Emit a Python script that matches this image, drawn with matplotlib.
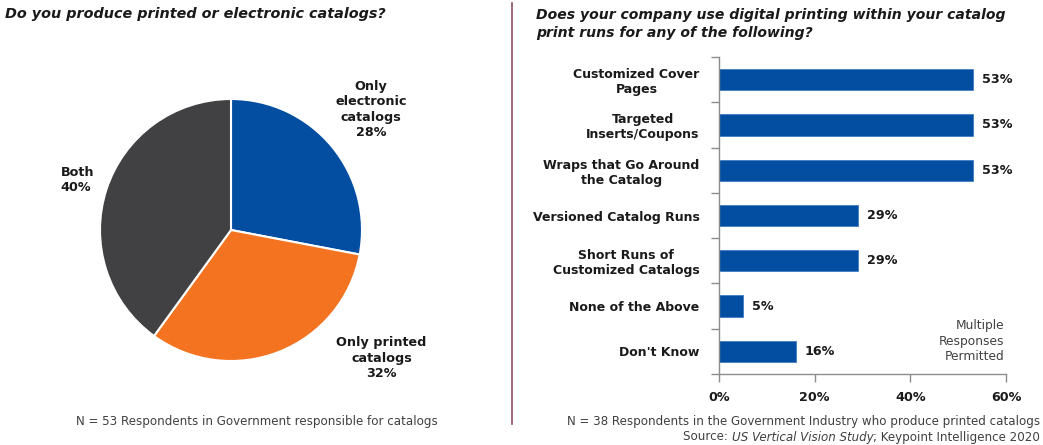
import matplotlib
matplotlib.use("Agg")
import matplotlib.pyplot as plt
from matplotlib.lines import Line2D

# Pie: catalog format
pie_labels = ["Only\nelectronic\ncatalogs", "Only printed\ncatalogs", "Both"]
pie_values = [28, 32, 40]
pie_colors = ["#044EA2", "#F37321", "#414042"]

# Bars: digital printing uses
bar_categories = [
    "Customized Cover\nPages",
    "Targeted\nInserts/Coupons",
    "Wraps that Go Around\nthe Catalog",
    "Versioned Catalog Runs",
    "Short Runs of\nCustomized Catalogs",
    "None of the Above",
    "Don't Know",
]
bar_values = [53, 53, 53, 29, 29, 5, 16]
x_ticks = [0, 20, 40, 60]

BLUE = "#044EA2"
TEXT = "#1A1A1A"
GRAY = "#404040"
AXIS = "#8C8C8C"

W, H = 1043, 445
fig = plt.figure(figsize=(W / 100, H / 100), dpi=100)
fig.patch.set_facecolor("white")
plt.rcParams["font.family"] = ["DejaVu Sans"]


def fx(px):
    return px / W


def fy(py):
    return 1 - py / H


# ---- Pie chart ----
cx, cy, r = 231, 230, 131
ax_pie = fig.add_axes([fx(cx - r), fy(cy + r), 2 * r / W, 2 * r / H])
ax_pie.pie(pie_values, colors=pie_colors, startangle=90, counterclock=False,
           radius=1.0, wedgeprops=dict(edgecolor="white", linewidth=1.5))
ax_pie.set_xlim(-1, 1)
ax_pie.set_ylim(-1, 1)
ax_pie.axis("off")

label_pos = [(1.07, 0.92, "center"), (1.15, -0.98, "center"), (-1.30, 0.38, "left")]
for lab, val, (lx, ly, ha) in zip(pie_labels, pie_values, label_pos):
    ax_pie.text(lx, ly, f"{lab}\n{val}%", ha=ha, va="center", multialignment=ha,
                fontsize=9.2, fontweight="bold", color=TEXT, linespacing=1.25,
                clip_on=False)

fig.text(fx(5), fy(14), "Do you produce printed or electronic catalogs?",
         fontsize=10.4, fontweight="bold", fontstyle="italic", color=TEXT,
         ha="left", va="center")
fig.text(fx(257), fy(421), "N = 53 Respondents in Government responsible for catalogs",
         fontsize=8.6, color=GRAY, ha="center", va="center")

# Divider between the two panels
fig.add_artist(Line2D([fx(512), fx(512)], [fy(3), fy(424)], color="#8E4B66",
                      linewidth=1.2, transform=fig.transFigure))

# ---- Bar chart ----
ax = fig.add_axes([fx(719), fy(374), fx(1006) - fx(719), (374 - 57) / H])
ypos = list(range(len(bar_categories)))
ax.barh(ypos, bar_values, height=0.47, color=BLUE, edgecolor="#3F7CC4", linewidth=0.6)
for y, v in zip(ypos, bar_values):
    ax.text(v + 1.9, y, f"{v}%", ha="left", va="center", fontsize=9.2,
            fontweight="bold", color=TEXT)

ax.set_xlim(0, 60)
ax.set_ylim(len(bar_categories) - 0.5, -0.5)
ax.set_xticks(x_ticks)
ax.set_xticklabels([f"{t}%" for t in x_ticks], fontsize=9.2, fontweight="bold", color=TEXT)
ax.set_yticks(ypos)
ax.set_yticklabels(bar_categories, fontsize=9, fontweight="bold", color=TEXT,
                   multialignment="center")
ax.set_yticks([i - 0.5 for i in range(len(bar_categories) + 1)], minor=True)
ax.tick_params(axis="y", which="major", length=0, pad=14)
ax.tick_params(axis="y", which="minor", length=6, color=AXIS, width=1)
ax.tick_params(axis="x", which="major", length=6, color=AXIS, width=1, pad=6)
for side in ("top", "right"):
    ax.spines[side].set_visible(False)
for side in ("left", "bottom"):
    ax.spines[side].set_color(AXIS)
    ax.spines[side].set_linewidth(1)

fig.text(fx(1004), fy(341), "Multiple\nResponses\nPermitted", ha="right", va="center",
         multialignment="right", fontsize=8.8, color=GRAY, linespacing=1.2)

fig.text(fx(536), fy(15), "Does your company use digital printing within your catalog",
         fontsize=10.1, fontweight="bold", fontstyle="italic", color=TEXT,
         ha="left", va="center")
fig.text(fx(536), fy(33), "print runs for any of the following?",
         fontsize=10.1, fontweight="bold", fontstyle="italic", color=TEXT,
         ha="left", va="center")

fig.text(fx(1040), fy(421), "N = 38 Respondents in the Government Industry who produce printed catalogs",
         fontsize=8.6, color=GRAY, ha="right", va="center")

# Source line: plain / italic study name / plain, laid end to end from the right
src_a = "Source: "
src_b = "US Vertical Vision Study"
src_c = "; Keypoint Intelligence 2020"
t_c = fig.text(fx(1040), fy(437), src_c, fontsize=8.6, color=GRAY, ha="right", va="center")
fig.canvas.draw()
renderer = fig.canvas.get_renderer()
bb = t_c.get_window_extent(renderer)
t_b = fig.text(bb.x0 / W, fy(437), src_b, fontsize=8.6, fontstyle="italic", color=GRAY,
               ha="right", va="center")
bb2 = t_b.get_window_extent(renderer)
fig.text(bb2.x0 / W, fy(437), src_a, fontsize=8.6, color=GRAY, ha="right", va="center")

fig.savefig("out.png", dpi=100, facecolor="white")
